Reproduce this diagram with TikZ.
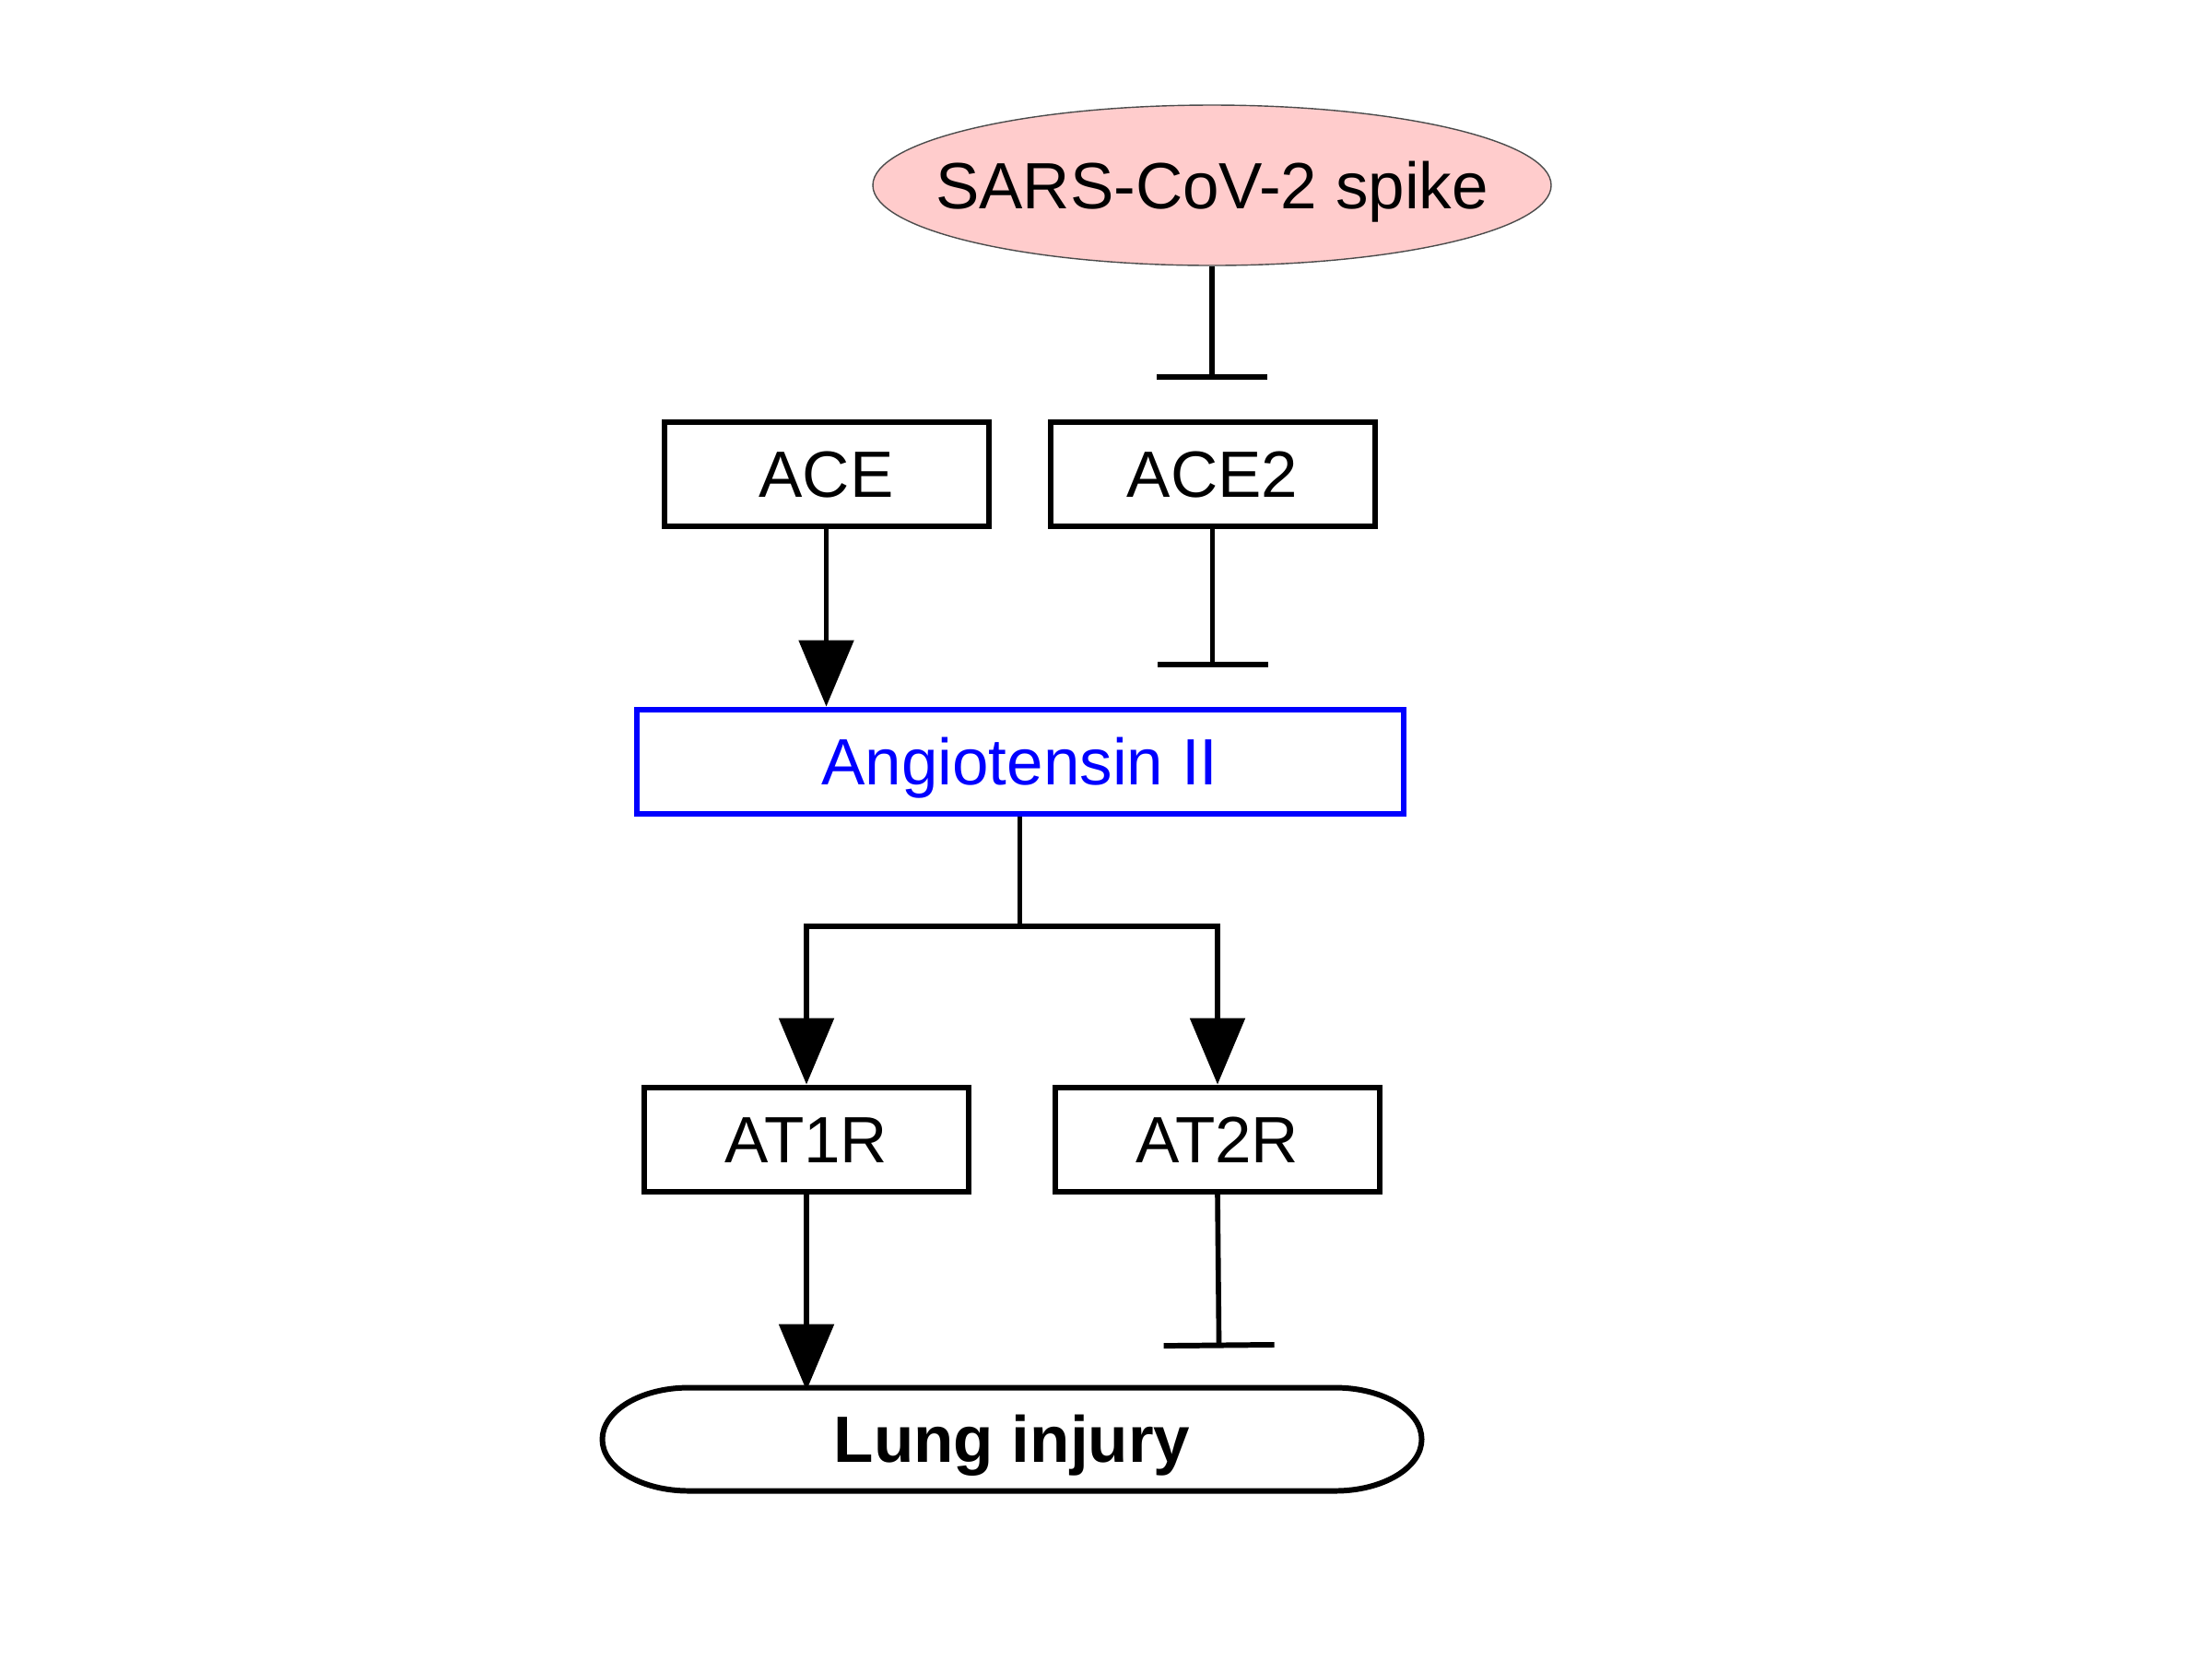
\documentclass[tikz,border=0pt]{standalone}
\usepackage{fontspec}
\setmainfont{Liberation Sans}
\usetikzlibrary{arrows.meta,shapes.geometric}
\definecolor{spikepink}{RGB}{255,204,204}
\begin{document}
\begin{tikzpicture}[x=1cm,y=1cm,
  every node/.style={font=\fontsize{20.2}{24}\selectfont, text height=14.4pt, text depth=0pt},
  box/.style={draw, line width=1.7pt, minimum width=3.52cm, minimum height=1.13cm, inner sep=0pt},
  conn/.style={line width=1.6pt},
  act/.style={conn, -{Triangle[length=0.72cm,width=0.59cm]}},
  inh/.style={conn, -{Bar[width=1.2cm,line width=1.7pt]}, shorten >=0.43cm},
]
\useasboundingbox (0,0) rectangle (24,-18);
\node[ellipse, draw=black!70, line width=0.4pt, fill=spikepink, minimum width=7.36cm, minimum height=1.74cm, inner ysep=0pt, inner xsep=-0.6cm] (spike) at (13.15,-2.01) {SARS-CoV-2 spike};
\node[box] (ace) at (8.965,-5.145) {ACE};
\node[box] (ace2) at (13.155,-5.145) {ACE2};
\node[box, draw=blue, text=blue, minimum width=8.32cm] (ang) at (11.065,-8.26) {Angiotensin II};
\node[box] (at1r) at (8.75,-12.36) {AT1R};
\node[box] (at2r) at (13.21,-12.36) {AT2R};
\node[minimum width=8.89cm, minimum height=1.12cm, inner sep=0pt, outer sep=0pt, font=\fontsize{20.2}{24}\selectfont\bfseries] (lung) at (10.98,-15.615) {Lung injury};
\draw[line width=1.7pt, line join=round] ([xshift=0.94cm]lung.north west) -- ([xshift=-0.94cm]lung.north east)
  arc[start angle=90, end angle=-90, x radius=0.94cm, y radius=0.56cm]
  -- ([xshift=0.94cm]lung.south west)
  arc[start angle=270, end angle=90, x radius=0.94cm, y radius=0.56cm] -- cycle;

\draw[inh] (spike.south) -- (spike.south |- ace2.north);
\draw[act] (ace.south) -- (ace.south |- ang.north);
\draw[inh] (ace2.south) -- (ace2.south |- ang.north);
\coordinate (split) at (ang.south |- 0,-10.05);
\draw[conn] (ang.south) -- (split);
\draw[act] (split) -| (at1r.north);
\draw[act] (split) -| (at2r.north);
\draw[act] (at1r.south) -- ([yshift=-0.03cm]at1r.south |- lung.north);
\draw[inh] (at2r.south) -- ([xshift=0.02cm]at2r.south |- lung.north);
\end{tikzpicture}
\end{document}
